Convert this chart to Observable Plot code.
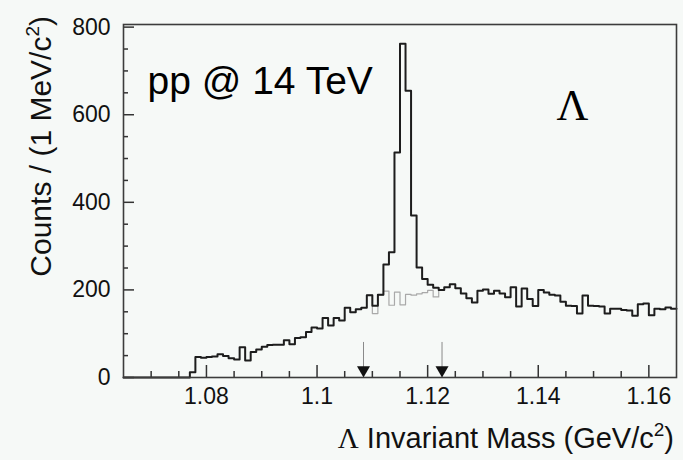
<!DOCTYPE html>
<html><head><meta charset="utf-8">
<script src="https://cdn.jsdelivr.net/npm/d3@7"></script>
<script src="https://cdn.jsdelivr.net/npm/@observablehq/plot@0.6"></script>
<style>
html,body{margin:0;padding:0;background:#f6f9f7;}
#chart{width:683px;height:460px;}
</style></head><body><div id="chart"></div>
<script>
// Histogram: 1 MeV bins from 1.065 GeV
const binStart = 1.065;
const binWidth = 0.001;
const counts = [
  0,0,0,0,0,0,0,0,0,0,0,0,
  12,47,45,47,48,53,49,44,41,69,
  39,58,64,70,74,75,75,85,76,90,
  92,104,114,112,136,119,136,130,159,149,
  156,159,188,164,189,258,286,514,762,655,
  370,251,225,212,205,200,206,213,204,192,
  181,171,198,201,191,198,192,183,206,162,
  203,179,163,200,194,189,187,173,164,163,
  146,187,164,163,162,146,157,157,154,153,
  141,167,169,142,157,156,160,157
];
// Background (grey) histogram under the peak
const bgFirstBin = 45;
const bgCounts = [146,188,197,165,195,166,190,188,191,194,199,184];
// Mass window arrows
const windowEdges = [1.1084, 1.1226];
const arrowRange = [0, 80];
// Axis ticks
const xMajorTicks = [1.08, 1.1, 1.12, 1.14, 1.16];
const xMinorTicks = [1.07, 1.075, 1.085, 1.09, 1.095, 1.105, 1.11, 1.115, 1.125, 1.13, 1.135, 1.145, 1.15, 1.155];
const yMajorTicks = [0, 200, 400, 600, 800];
const yMinorTicks = [50, 100, 150, 250, 300, 350, 450, 500, 550, 650, 700, 750];
const xDomain = [1.065, 1.165];
const yDomain = [0, 806];
const xTitleMain = " Invariant Mass (GeV/c";
const yTitleMain = "Counts / (1 MeV/c";
const energyLabel = ["pp @ 14 TeV"];
const particleLabel = ["Λ"];

const W = 683, H = 460, mL = 123, mR = 7, mT = 24, mB = 83;
const innerW = W - mL - mR, innerH = H - mT - mB;

const hist = counts.map((c, i) => ({x: binStart + i * binWidth, y: c}));
hist.push({x: binStart + counts.length * binWidth, y: counts[counts.length - 1]});

const bgPts = [];
for (let i = bgFirstBin - 1; i <= bgFirstBin + bgCounts.length; i++) {
  const inWin = i >= bgFirstBin && i < bgFirstBin + bgCounts.length;
  bgPts.push({x: binStart + i * binWidth, y: inWin ? bgCounts[i - bgFirstBin] : counts[i]});
}
bgPts.push({x: binStart + (bgFirstBin + bgCounts.length + 1) * binWidth, y: counts[bgFirstBin + bgCounts.length]});

const sans = "'Liberation Sans', Arial, Helvetica, sans-serif";

const plot = Plot.plot({
  width: W, height: H,
  marginLeft: mL, marginRight: mR, marginTop: mT, marginBottom: mB,
  style: {background: "#f6f9f7", color: "#111", overflow: "visible"},
  x: {domain: xDomain, label: null},
  y: {domain: yDomain, label: null},
  marks: [
    Plot.line(bgPts, {x: "x", y: "y", curve: "step-after", stroke: "#a9a9a9", strokeWidth: 1.2}),
    Plot.line(hist, {x: "x", y: "y", curve: "step-after", stroke: "#1d1d1d", strokeWidth: 2}),
    Plot.tickX(xMajorTicks, {x: d => d, insetTop: innerH - 12, stroke: "#333", strokeWidth: 1.5}),
    Plot.tickX(xMinorTicks, {x: d => d, insetTop: innerH - 6, stroke: "#333", strokeWidth: 1.5}),
    Plot.tickY(yMajorTicks, {y: d => d, insetRight: innerW - 11, stroke: "#333", strokeWidth: 1.5}),
    Plot.tickY(yMinorTicks, {y: d => d, insetRight: innerW - 5, stroke: "#333", strokeWidth: 1.5}),
    Plot.ruleX(windowEdges, {x: d => d, y1: arrowRange[0], y2: arrowRange[1], stroke: "#8a8a8a", strokeWidth: 1}),
    Plot.dot(windowEdges, {x: d => d, y: arrowRange[0], dy: -7.5, symbol: "triangle", r: 4.83, rotate: 180, fill: "#111", stroke: null}),
    Plot.frame({stroke: "#3c3c3c", strokeWidth: 1.6}),
    Plot.axisX({ticks: xMajorTicks, label: null, tickSize: 0, tickPadding: 10, tickFormat: d => String(d), fontSize: 23, fontFamily: sans}),
    Plot.axisY({ticks: yMajorTicks, label: null, tickSize: 0, tickPadding: 13, tickFormat: d => String(d), fontSize: 23, fontFamily: sans}),
    Plot.text(energyLabel, {text: d => d, frameAnchor: "top-left", dx: 24, dy: 42, textAnchor: "start", fontSize: 39, fontFamily: sans, fill: "#000"}),
    Plot.text(particleLabel, {text: d => d, frameAnchor: "top-left", dx: 449, dy: 64, textAnchor: "middle", fontSize: 44, fontFamily: "'Liberation Serif', 'Times New Roman', serif", fill: "#000"})
  ]
});
document.getElementById("chart").appendChild(plot);

const svg = d3.select(plot);
const xt = svg.append("text").attr("x", 674).attr("y", 448).attr("text-anchor", "end")
  .attr("font-family", sans).attr("font-size", 29).attr("fill", "#111");
xt.append("tspan").attr("font-family", "'Liberation Serif', serif").text("Λ");
xt.append("tspan").text(xTitleMain);
xt.append("tspan").attr("font-size", 19).attr("dy", -12).text("2");
xt.append("tspan").attr("dy", 12).text(")");

const yt = svg.append("text").attr("transform", "translate(51,16) rotate(-90)").attr("text-anchor", "end")
  .attr("font-family", sans).attr("font-size", 30).attr("fill", "#111");
yt.append("tspan").text(yTitleMain);
yt.append("tspan").attr("font-size", 19).attr("dy", -12).text("2");
yt.append("tspan").attr("dy", 12).text(")");
</script></body></html>
